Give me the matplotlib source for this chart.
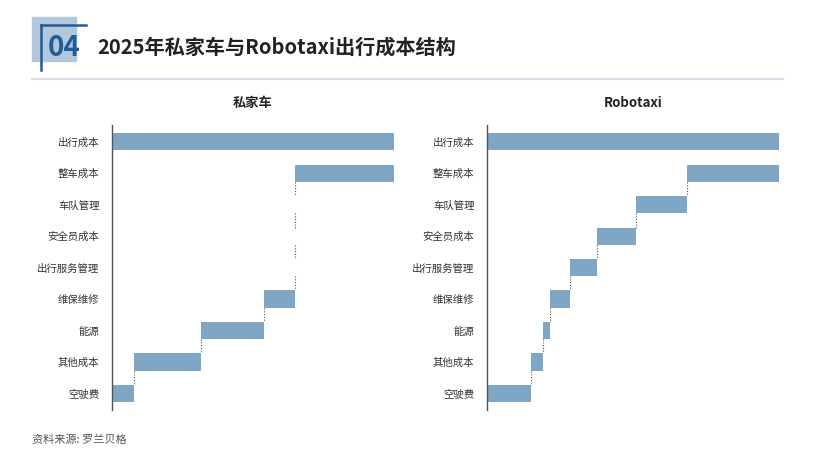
import numpy as np
import matplotlib
matplotlib.use('Agg')
import matplotlib.pyplot as plt
from matplotlib.patches import Rectangle
from matplotlib.lines import Line2D

plt.rcParams['font.family'] = ['Noto Sans CJK SC', 'DejaVu Sans']

categories = ['出行成本', '整车成本', '车队管理', '安全员成本', '出行服务管理',
              '维保维修', '能源', '其他成本', '空驶费']
# component values (percent of total), from 整车成本 down to 空驶费
private_parts = [34.8, 0, 0, 0, 11.0, 22.0, 23.4, 7.8]
robotaxi_parts = [30.8, 17.1, 13.2, 9.1, 6.5, 2.5, 3.8, 14.9]
panel_titles = ['私家车', 'Robotaxi']

bar_color = '#7fa7c5'
W, H = 831, 466


def draw_waterfall(ax, parts, title):
    total = sum(parts)
    lefts = [0]
    widths = [total]
    right = total
    for p in parts:
        lefts.append(right - p)
        widths.append(p)
        right = right - p
    y = np.arange(len(categories))
    ax.barh(y, widths, left=lefts, height=0.55, color=bar_color, clip_on=False)
    # dotted connectors
    for i in range(len(categories) - 1):
        x = lefts[i]
        ax.plot([x, x], [i + 0.275, i + 1 - 0.275], color='#555555',
                linestyle=(0, (1, 1.5)), linewidth=0.8, clip_on=False)
    ax.set_xlim(0, total)
    ax.set_ylim(8.52, -0.53)
    ax.set_yticks(y)
    ax.set_yticklabels(categories, fontsize=7.5, color='#333333')
    ax.tick_params(axis='y', length=0, pad=9)
    ax.set_xticks([])
    for s in ['top', 'right', 'bottom']:
        ax.spines[s].set_visible(False)
    ax.spines['left'].set_color('#555555')
    ax.spines['left'].set_linewidth(1.0)
    ax.set_title(title, fontsize=9.5, fontweight='bold', color='#222222', pad=13)


fig = plt.figure(figsize=(W / 100, H / 100), dpi=100)

ax1 = fig.add_axes([112 / W, 1 - 410 / H, (394 - 112) / W, (410 - 125) / H])
ax2 = fig.add_axes([487 / W, 1 - 410 / H, (779 - 487) / W, (410 - 125) / H])
draw_waterfall(ax1, private_parts, panel_titles[0])
draw_waterfall(ax2, robotaxi_parts, panel_titles[1])

# header
fig.patches.append(Rectangle((32 / W, 1 - 61 / H), 44 / W, 44 / H,
                             transform=fig.transFigure, color='#b2c7dc', zorder=0))
fig.lines.append(Line2D([41 / W, 41 / W], [1 - 70 / H, 1 - 25 / H],
                        transform=fig.transFigure, color='#1f5d96', linewidth=1.8))
fig.lines.append(Line2D([41 / W, 86 / W], [1 - 25 / H, 1 - 25 / H],
                        transform=fig.transFigure, color='#1f5d96', linewidth=1.8))
fig.text(48 / W, 1 - 48 / H, '04', fontsize=20, fontweight='bold', color='#1f5d96',
         va='center', ha='left')
fig.text(97 / W, 1 - 47 / H, '2025年私家车与Robotaxi出行成本结构', fontsize=14.5,
         fontweight='bold', color='#222222', va='center', ha='left')
fig.lines.append(Line2D([32 / W, 783 / W], [1 - 79 / H, 1 - 79 / H],
                        transform=fig.transFigure, color='#d5e0ea', linewidth=1.6))

fig.text(32 / W, 1 - 440 / H, '资料来源: 罗兰贝格', fontsize=8, color='#555555',
         va='center', ha='left')

fig.savefig('out.png', dpi=100)
